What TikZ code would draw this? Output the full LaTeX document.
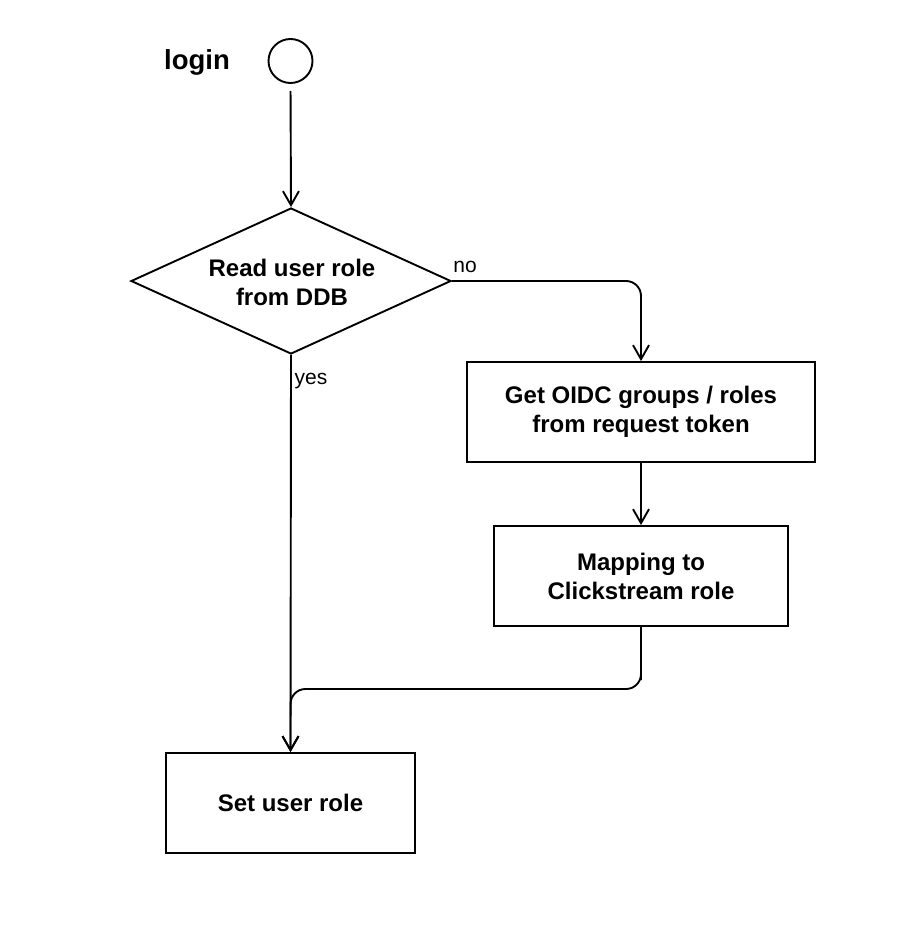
\documentclass[tikz,border=0pt]{standalone}
\usepackage{fontspec}
\setmainfont{Liberation Sans}
\usetikzlibrary{arrows.meta,shapes.geometric}
\begin{document}
\begin{tikzpicture}[x=1pt,y=-1pt,
  line width=1.9pt,
  arr/.style={-{Straight Barb[length=14pt,width=16pt,line width=1.9pt]}},
  box/.style={draw,rectangle,inner sep=0pt,font=\fontsize{24}{29}\selectfont\bfseries,align=center},
  lbl/.style={font=\fontsize{21}{24}\selectfont}]
\useasboundingbox (0,0) rectangle (920,928);
\node[font=\fontsize{27.5}{32}\selectfont\bfseries] (login) at (197,62) {login};
\node[draw,circle,minimum size=44pt,inner sep=0pt] (start) at (290.5,61) {};
\node[draw,diamond,minimum width=320pt,minimum height=146pt,inner sep=0pt,aspect=2.19] (dec) at (291,281) {};
\node[font=\fontsize{24}{29}\selectfont\bfseries,align=center] (dectxt) at (292,282) {Read user role\\from DDB};
\node[box,minimum width=348pt,minimum height=100pt] (oidc) at (641,412) {Get OIDC groups / roles\\from request token};
\node[box,minimum width=294pt,minimum height=100pt] (map) at (641,576) {Mapping to\\Clickstream role};
\node[box,minimum width=249pt,minimum height=100pt] (set) at (290.5,803) {Set user role};
\coordinate (bend) at (641,689);
\draw[arr,shorten <=7pt] (start.south) -- (dec.north);
\draw[arr,rounded corners=15pt] (dec.east) -| (oidc.north);
\draw[arr] (dec.south) -- (set.north);
\draw[arr] (oidc.south) -- (map.north);
\draw[arr,rounded corners=15pt] (map.south) |- (bend) -| (set.north);
\node[lbl] (no) at (465,267) {no};
\node[lbl] (yes) at (311,381) {yes};
\end{tikzpicture}
\end{document}
